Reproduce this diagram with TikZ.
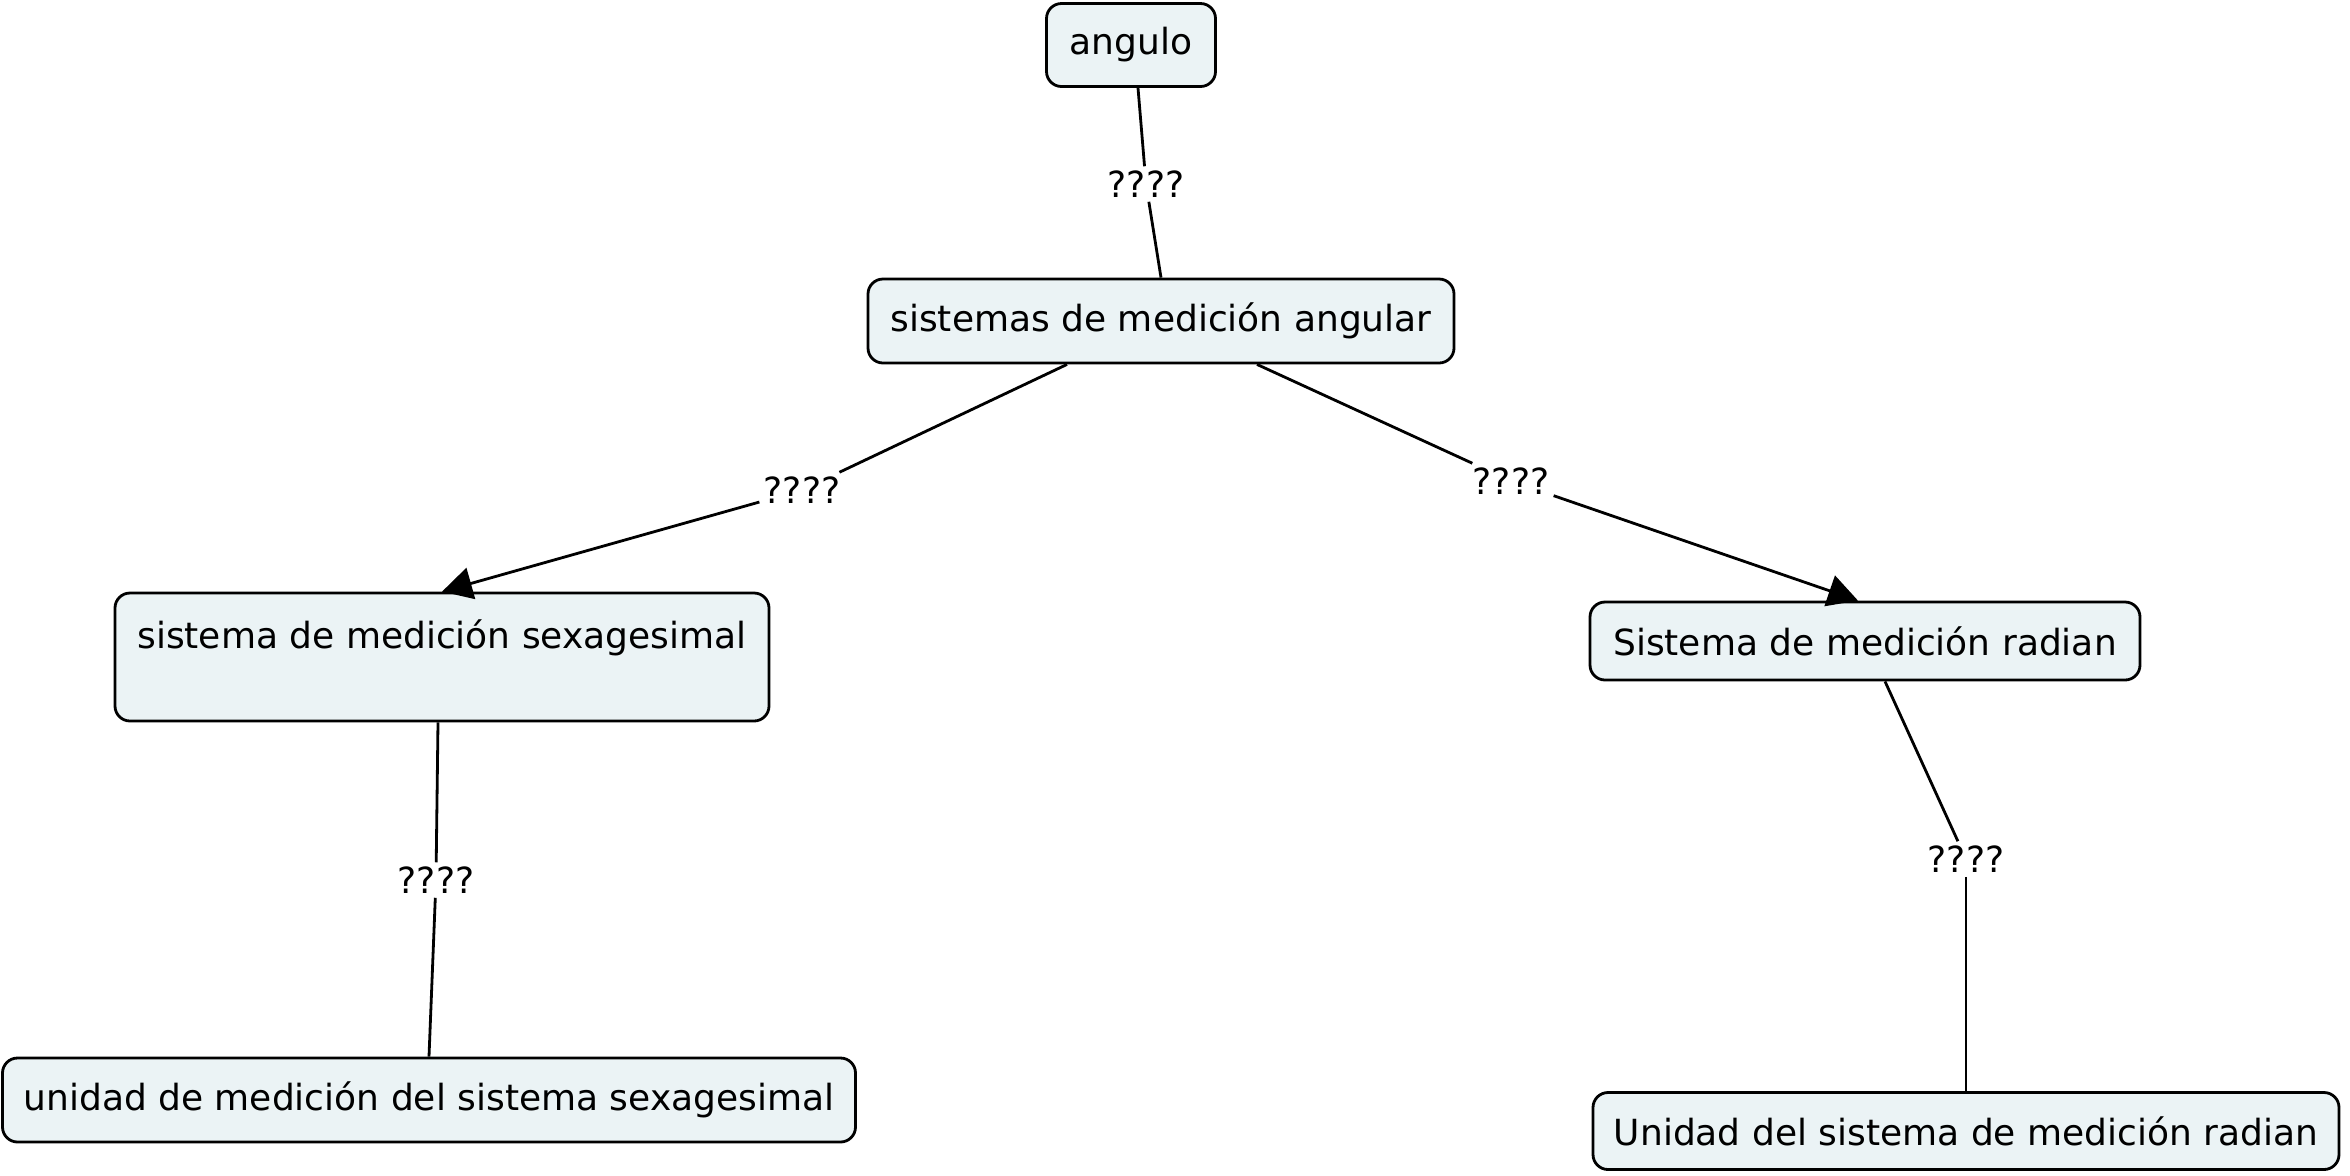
\documentclass[tikz,border=0pt]{standalone}
\usepackage{fontspec}
\setmainfont{DejaVu Sans}
\usepackage{tikz}
\usetikzlibrary{arrows.meta, positioning}
\definecolor{conceptfill}{RGB}{235,243,245}

\begin{document}
\begin{tikzpicture}[x=0.5pt, y=-0.5pt,
        concept/.style={draw, line width=1.4pt, fill=conceptfill, rounded corners=7.5pt,
            align=center, font=\fontsize{18}{23}\selectfont},
        linkword/.style={inner sep=2pt, font=\fontsize{18}{21}\selectfont},
        conn/.style={line width=1.4pt},
        arr/.style={line width=1.4pt, -{Triangle[length=15pt, width=16pt]}}]
    \useasboundingbox (0,0) rectangle (2350,1175);

    \node[concept, minimum width=84.5pt, minimum height=41.5pt] (ang) at (1131,45) {angulo};
    \node[concept, minimum width=293pt, minimum height=42pt] (sma) at (1161,321) {sistemas de medición angular};
    \node[concept, minimum width=327pt, minimum height=64pt] (sex) at (442,657) {sistema de medición sexagesimal\\\mbox{}};
    \node[concept, minimum width=275pt, minimum height=39pt] (rad) at (1865,641) {Sistema de medición radian};
    \node[concept, minimum width=426.5pt, minimum height=42pt] (usex) at (429,1100) {unidad de medición del sistema sexagesimal};
    \node[concept, minimum width=373pt, minimum height=38.5pt] (urad) at (1966,1131) {Unidad del sistema de medición radian};

    \node[linkword] (l1) at (1146,184) {????};
    \node[linkword] (l2) at (802,490) {????};
    \node[linkword] (l3) at (1511,481) {????};
    \node[linkword] (l4) at (436,880) {????};
    \node[linkword] (l5) at (1966,859) {????};

    \draw[conn] ([xshift=3.5pt]ang.south) -- (l1);
    \draw[conn] (l1) -- (sma.north);
    \draw[conn] ([xshift=-47pt]sma.south) -- (l2);
    \draw[arr] (l2) -- (sex.north);
    \draw[conn] ([xshift=48pt]sma.south) -- (l3);
    \draw[arr] (l3) -- ([xshift=-3.5pt]rad.north);
    \draw[conn] ([xshift=-2pt]sex.south) -- (l4);
    \draw[conn] (l4) -- (usex.north);
    \draw[conn] ([xshift=10pt]rad.south) -- (l5);
    \draw[conn] (l5) -- (urad.north);
\end{tikzpicture}
\end{document}
